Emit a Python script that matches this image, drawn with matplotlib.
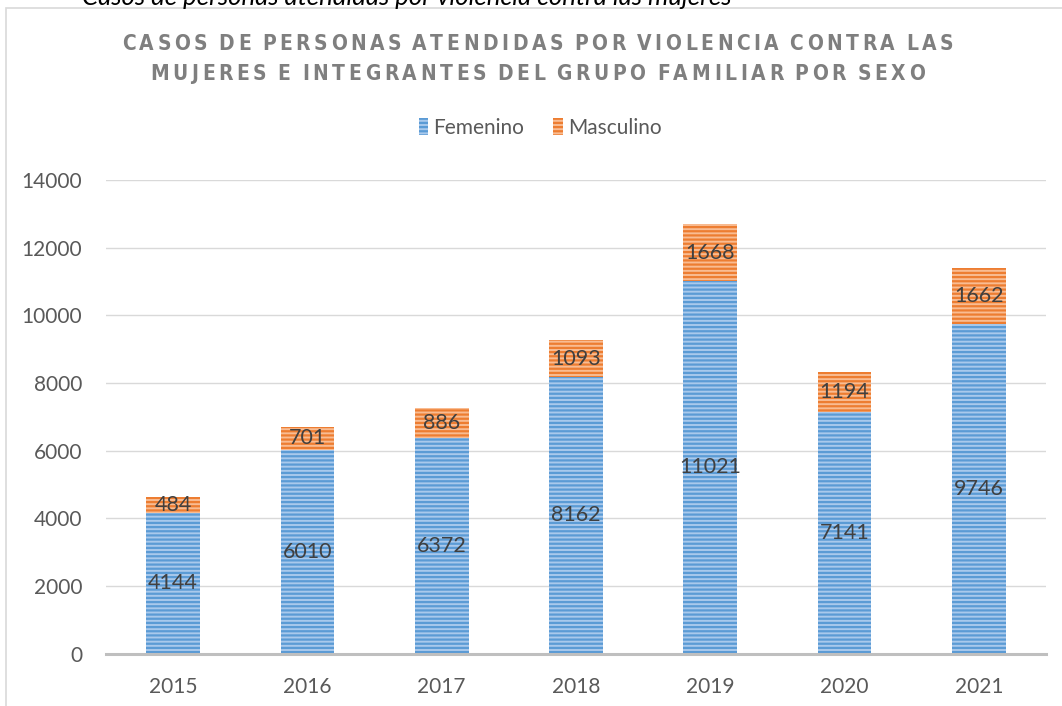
import matplotlib
matplotlib.use("Agg")
import matplotlib.pyplot as plt
from matplotlib.patches import Rectangle, Patch

# data
years = ["2015", "2016", "2017", "2018", "2019", "2020", "2021"]
femenino = [4144, 6010, 6372, 8162, 11021, 7141, 9746]
masculino = [484, 701, 886, 1093, 1668, 1194, 1662]

title_lines = ["CASOS DE PERSONAS ATENDIDAS POR VIOLENCIA CONTRA LAS",
               "MUJERES E INTEGRANTES DEL GRUPO FAMILIAR POR SEXO"]
caption = "Casos de personas atendidas por violencia contra las mujeres"

W, H = 1062, 706
FONT = ["Lato", "DejaVu Sans"]
plt.rcParams["font.family"] = FONT
plt.rcParams["hatch.linewidth"] = 1.6

blue_face, blue_hatch = "#A9C9EC", "#5B9BD5"
orange_face, orange_hatch = "#F9BC92", "#ED7D31"
text_col = "#404040"

fig = plt.figure(figsize=(W / 100, H / 100), dpi=100)
ax = fig.add_axes([106 / W, (H - 653.5) / H, 940 / W, 473.5 / H])

x = range(len(years))
b1 = ax.bar(x, femenino, width=0.40, color=blue_face, edgecolor=blue_hatch,
            linewidth=0, hatch="----", zorder=2)
b2 = ax.bar(x, masculino, width=0.40, bottom=femenino, color=orange_face,
            edgecolor=orange_hatch, linewidth=0, hatch="----", zorder=2)
ax.bar_label(b1, labels=[str(v) for v in femenino], label_type="center",
             fontsize=15.5, color=text_col)
ax.bar_label(b2, labels=[str(v) for v in masculino], label_type="center",
             fontsize=15.5, color=text_col)

ax.set_xlim(-0.5, len(years) - 0.5)
ax.set_ylim(0, 14000)
ax.set_yticks(range(0, 14001, 2000))
ax.set_xticks(list(x))
ax.set_xticklabels(years)
ax.tick_params(axis="both", length=0, labelsize=15, labelcolor="#595959")
ax.tick_params(axis="y", pad=17)
ax.tick_params(axis="x", pad=17)
ax.grid(axis="y", color="#D9D9D9", linewidth=1.0, zorder=0)
for s in ["top", "right", "left"]:
    ax.spines[s].set_visible(False)
ax.spines["bottom"].set_color("#BFBFBF")
ax.spines["bottom"].set_linewidth(2.2)
ax.spines["bottom"].set_zorder(3)

# legend
handles = [Patch(facecolor=blue_face, edgecolor=blue_hatch, linewidth=0, hatch="----"),
           Patch(facecolor=orange_face, edgecolor=orange_hatch, linewidth=0, hatch="----")]
fig.legend(handles, ["Femenino", "Masculino"], loc="center",
           bbox_to_anchor=(540 / W, 1 - 128 / H), ncol=2, frameon=False,
           fontsize=15, labelcolor="#595959", handlelength=0.45, handleheight=0.9,
           handletextpad=0.25, columnspacing=1.4)

# chart frame (cut off at right and bottom like the screenshot)
fig.patches.append(Rectangle((5.5 / W, -0.1), 1.2, 1 - 7.5 / H + 0.1,
                             transform=fig.transFigure, fill=False,
                             edgecolor="#D9D9D9", linewidth=1.2))

# caption above the chart, only its lower half shows
fig.text(82 / W, 1 - 5 / H, caption, ha="left", va="baseline", fontsize=18.5,
         style="italic", color="#000000")

# letter-spaced title, drawn character by character
fig.canvas.draw()
renderer = fig.canvas.get_renderer()
title_kw = dict(fontsize=15, fontweight="bold", fontstretch="condensed",
                family="DejaVu Sans", color="#7F7F7F", va="center", ha="left")
for line, yc, (x0, x1) in zip(title_lines, [44, 74], [(122, 953), (150, 925)]):
    widths = []
    texts = []
    for ch in line:
        t = fig.text(0, 1 - yc / H, ch if ch != " " else "", **title_kw)
        w = t.get_window_extent(renderer).width if ch != " " else 4.0
        widths.append(w)
        texts.append(t)
    track = (x1 - x0 - sum(widths)) / (len(line) - 1)
    pos = x0
    for t, w in zip(texts, widths):
        t.set_x(pos / W)
        pos += w + track

fig.savefig("out.png", dpi=100)
